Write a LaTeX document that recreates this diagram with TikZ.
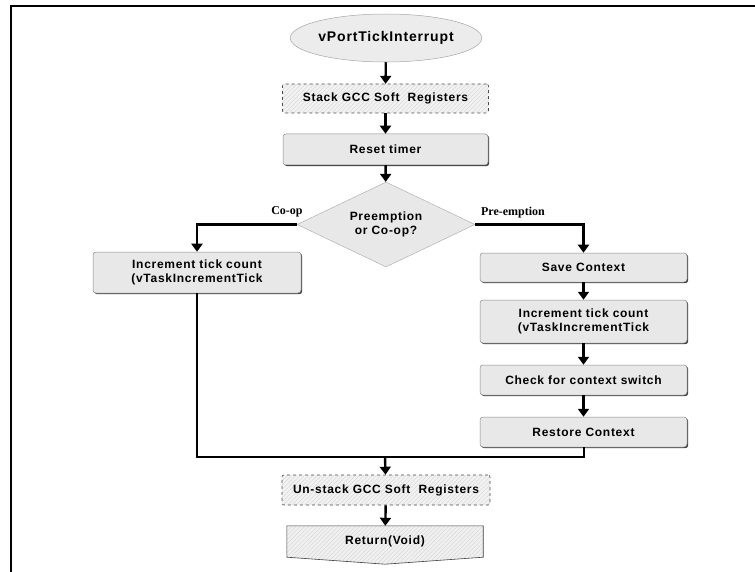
\documentclass[tikz,border=0pt]{standalone}
\usepackage{fontspec}
\setmainfont{Liberation Sans}
\newfontfamily\serifb{Liberation Serif}
\newfontfamily\boxfont{Liberation Sans}[LetterSpace=6]
\usetikzlibrary{shapes.geometric,arrows.meta,shadows,patterns.meta,calc}
\definecolor{boxfill}{HTML}{E8E8E8}
\definecolor{boxline}{HTML}{8A8A8A}
\begin{document}
\begin{tikzpicture}[x=1pt,y=-1pt,
  every node/.style={font=\boxfont\bfseries\fontsize{12}{14.5}\selectfont, align=center, inner sep=0pt},
  procbox/.style={rectangle, rounded corners=3pt, fill=boxfill, draw=boxline, line width=0.5pt,
    minimum width=207pt,
    drop shadow={shadow xshift=1.2pt, shadow yshift=-1.2pt, fill=black!75, opacity=1}},
  hatchbox/.style={rectangle, rounded corners=2pt, draw=black!70, dashed, line width=0.6pt,
    minimum width=206pt,
    preaction={fill=gray!10},
    pattern={Lines[angle=45,distance=3pt,line width=0.35pt]}, pattern color=gray!35},
  flow/.style={line width=2.4pt, -{Triangle[width=11pt,length=8pt]}},
  wire/.style={line width=2pt},
  branch/.style={font=\serifb\bfseries\fontsize{12}{14}\selectfont}
]
\useasboundingbox (0,0) rectangle (755,572);
% frame
\draw[line width=2pt] (11,572) -- (11,6) -- (755,6);

% main column
\node[ellipse, minimum width=168pt, minimum height=48pt, fill=gray!15, draw=gray!70, line width=0.5pt,
      font=\boxfont\bfseries\fontsize{14}{16}\selectfont] (start) at (386,38) {vPortTickInterrupt};
\node[hatchbox, minimum height=29pt] (stack) at (385.5,98.5) {Stack GCC Soft\ \ Registers};
\node[procbox, minimum width=205pt, minimum height=31pt] (reset) at (385.5,149.5) {Reset timer};
\node[diamond, aspect=2, minimum width=178pt, minimum height=85pt, fill=gray!18, draw=gray!60, line width=0.5pt] (dec) at (386,224.5) {Preemption\\or Co-op?};

% left branch
\node[procbox, minimum width=208pt, minimum height=41pt] (linc) at (197,272.5) {Increment tick count\\(vTaskIncrementTick};

% right branch
\node[procbox, minimum height=29pt] (save) at (583.5,267.5) {Save Context};
\node[procbox, minimum height=43pt] (rinc) at (583.5,321.5) {Increment tick count\\(vTaskIncrementTick};
\node[procbox, minimum height=30pt] (check) at (583.5,380) {Check for context switch};
\node[procbox, minimum height=30pt] (restore) at (583.5,432) {Restore Context};

% bottom
\node[hatchbox, minimum width=208pt, minimum height=30pt] (unstack) at (386,490) {Un-stack GCC Soft\ \ Registers};
\node[rectangle, minimum width=196pt, minimum height=31pt] (ret) at (385,541.5) {};
\draw[draw=black!75, line width=0.6pt, preaction={fill=gray!12},
      pattern={Lines[angle=45,distance=3pt,line width=0.35pt]}, pattern color=gray!35]
  (ret.north west) -- (ret.north east) -- (ret.south east)
  .. controls ($(ret.south east)!0.5!(ret.south)+(0,3)$) .. ($(ret.south)+(0,7)$)
  .. controls ($(ret.south west)!0.5!(ret.south)+(0,3)$) .. (ret.south west) -- cycle;
\node (rettext) at (ret.center) {Return(Void)};

\coordinate (merge) at (385,457);

% connectors
\draw[flow] (start) -- (stack);
\draw[flow] (stack) -- (reset);
\draw[flow] (reset) -- (dec);
\draw[flow] (dec.west) -| (linc.north);
\draw[flow] (dec.east) -| (save.north);
\draw[flow] (save) -- (rinc);
\draw[flow] (rinc) -- (check);
\draw[flow] (check) -- (restore);
\draw[wire] (linc.south) |- (merge);
\draw[wire] (restore.south) |- (merge);
\draw[flow] (merge) -- (unstack);
\draw[flow] (unstack) -- (ret);

% branch labels
\node[branch] (lcoop) at (287,212) {Co-op};
\node[branch] (lpre) at (513,213) {Pre-emption};
\end{tikzpicture}
\end{document}
